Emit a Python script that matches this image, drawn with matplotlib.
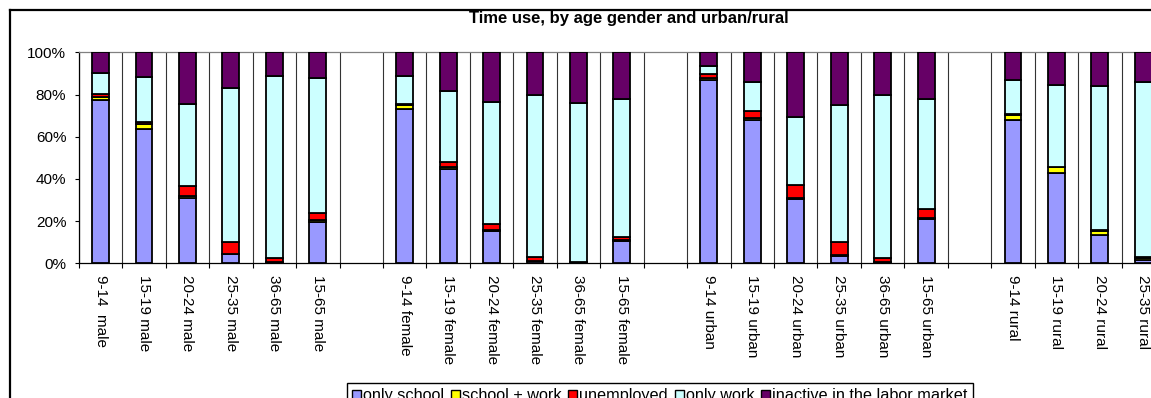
import matplotlib

matplotlib.use("Agg")

import matplotlib.pyplot as plt
import numpy as np
from matplotlib.lines import Line2D
from matplotlib.patches import Patch

plt.rcParams["font.family"] = ["Liberation Sans", "DejaVu Sans"]

# slot labels, "" marks an empty slot between groups
labels = [
    "9-14  male", "15-19 male", "20-24 male", "25-35 male", "36-65 male", "15-65 male", "",
    "9-14 female", "15-19 female", "20-24 female", "25-35 female", "36-65 female", "15-65 female", "",
    "9-14 urban", "15-19 urban", "20-24 urban", "25-35 urban", "36-65 urban", "15-65 urban", "",
    "9-14 rural", "15-19 rural", "20-24 rural", "25-35 rural",
]

# shares in percent, one value per non-empty slot
only_school = [77.5, 63.5, 30.8, 4.4, 0.6, 19.7,
               73.0, 44.5, 15.5, 1.0, 0.3, 10.7,
               86.9, 67.9, 30.3, 3.5, 0.5, 20.9,
               67.9, 42.9, 13.4, 1.6]
school_work = [1.5, 2.5, 1.2, 0.2, 0.1, 0.8,
               2.2, 1.3, 0.3, 0.2, 0.1, 0.4,
               1.0, 1.0, 0.5, 0.3, 0.1, 0.5,
               2.4, 2.6, 2.1, 0.8]
unemployed = [1.2, 1.0, 4.8, 5.3, 1.7, 3.2,
              0.3, 2.1, 2.8, 1.6, 0.2, 1.5,
              1.8, 3.4, 6.2, 6.1, 2.1, 4.2,
              0.3, 0.3, 0.3, 0.4]
only_work = [9.8, 21.4, 38.7, 73.3, 86.4, 64.3,
             13.3, 33.9, 57.8, 77.1, 75.2, 65.3,
             3.9, 13.8, 32.2, 65.0, 77.1, 52.1,
             16.3, 38.7, 68.2, 83.1]
inactive = [10.0, 11.6, 24.5, 16.8, 11.2, 12.0,
            11.2, 18.2, 23.6, 20.1, 24.2, 22.1,
            6.4, 13.9, 30.8, 25.1, 20.2, 22.3,
            13.1, 15.5, 16.0, 14.1]

series = [
    ("only school", only_school, "#9999FF"),
    ("school + work", school_work, "#FFFF00"),
    ("unemployed", unemployed, "#FF0000"),
    ("only work", only_work, "#CCFFFF"),
    ("inactive in the labor market", inactive, "#660066"),
]

W, H = 1151, 398
fig = plt.figure(figsize=(W / 100, H / 100), dpi=100)
n_slots = 26
slot_px = 43.45
ax = fig.add_axes([78.8 / W, (H - 263.3) / H, n_slots * slot_px / W, 211 / H])

positions = np.array([i for i, lab in enumerate(labels) if lab])
bottom = np.zeros(len(positions))
for name, values, color in series:
    values = np.array(values)
    ax.bar(positions, values, width=0.39, bottom=bottom, color=color,
           edgecolor="black", linewidth=1.3, zorder=3)
    bottom += values

ax.set_xlim(-0.5, n_slots - 0.5)
ax.set_ylim(0, 100)
ax.set_yticks(np.arange(0, 101, 20))
ax.set_yticklabels([f"{v}%" for v in range(0, 101, 20)])
ax.set_xticks(np.arange(len(labels)))
ax.set_xticklabels(labels, rotation=270, va="top", ha="center")
ax.set_xticks(np.arange(-0.5, n_slots), minor=True)
ax.tick_params(axis="x", which="major", length=0, pad=8.5, labelsize=11)
ax.tick_params(axis="x", which="minor", length=3.5, width=0.8, direction="out")
ax.tick_params(axis="y", length=3, width=0.8, direction="out", pad=6, labelsize=11)
ax.grid(axis="x", which="minor", color="#333333", linewidth=0.8, zorder=0)

ax.spines["top"].set_color("#808080")
ax.spines["top"].set_linewidth(0.9)
ax.spines["right"].set_visible(False)
for side in ("left", "bottom"):
    ax.spines[side].set_linewidth(0.9)

fig.text(629 / W, 1 - 23.5 / H, "Time use, by age gender and urban/rural",
         ha="center", va="baseline", fontsize=12, fontweight="bold")

# outer chart frame
fig.add_artist(Line2D([9.7 / W, 1.0], [1 - 10.3 / H, 1 - 10.3 / H],
                      transform=fig.transFigure, color="black", linewidth=1.6))
fig.add_artist(Line2D([9.7 / W, 9.7 / W], [0.0, 1 - 10.3 / H],
                      transform=fig.transFigure, color="black", linewidth=1.6))

handles = [Patch(facecolor=c, edgecolor="black", linewidth=1.0) for _, _, c in series]
fig.legend(handles, [s[0] for s in series], loc="upper left",
           bbox_to_anchor=(346.7 / W, 1 - 383.3 / H), bbox_transform=fig.transFigure,
           ncol=5, fontsize=11.7, frameon=True, fancybox=False, edgecolor="black",
           framealpha=1, borderpad=0.3, handlelength=0.55, handleheight=0.55,
           handletextpad=0.15, columnspacing=0.4, borderaxespad=0)

fig.savefig("out.png", dpi=100, facecolor="white")
